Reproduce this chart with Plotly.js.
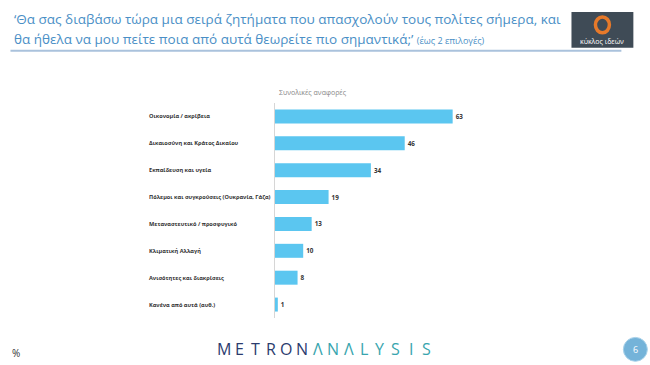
<!DOCTYPE html>
<html>
<head>
<meta charset="utf-8">
<script src="https://cdn.plot.ly/plotly-3.0.1.min.js"></script>
<style>
html,body{margin:0;padding:0;background:#fff;}
#chart{width:650px;height:365px;}
</style>
</head>
<body>
<div id="chart"></div>
<script>
const categories = [
  "Οικονομία / ακρίβεια",
  "Δικαιοσύνη και Κράτος Δικαίου",
  "Εκπαίδευση και υγεία",
  "Πόλεμοι και συγκρούσεις (Ουκρανία, Γάζα)",
  "Μεταναστευτικό / προσφυγικό",
  "Κλιματική Αλλαγή",
  "Ανισότητες και διακρίσεις",
  "Κανένα από αυτά (αυθ.)"
];
const values = [63, 46, 34, 19, 13, 10, 8, 1];
const seriesName = "Συνολικές αναφορές";
const titleLine1 = "‘Θα σας διαβάσω τώρα μια σειρά ζητήματα που απασχολούν τους πολίτες σήμερα, και";
const titleLine2 = "θα ήθελα να μου πείτε ποια από αυτά θεωρείτε πιο σημαντικά;’";
const titleNote = "(έως 2 επιλογές)";
const brandA = "METRON";
const brandB = "ΛNΛLYSIS";

const W = 650, H = 365, L = 275, R = 92.5, T = 102.5, B = 46.5;
const pw = W - L - R, ph = H - T - B;
const fx = p => (p - L) / pw;
const fy = p => (H - B - p) / ph;
const FONT = 'Open Sans, sans-serif';

const trace = {
  type: 'bar',
  orientation: 'h',
  y: categories,
  x: values,
  text: values.map(String),
  textposition: 'outside',
  cliponaxis: false,
  textfont: {family: FONT, size: 6.3, color: '#333', weight: 'bold'},
  marker: {color: '#5bc6f0'},
  width: 0.52,
  hoverinfo: 'none'
};

const annotations = [
  {xref: 'paper', yref: 'paper', x: fx(12), y: fy(18), xanchor: 'left', yanchor: 'middle', align: 'left', showarrow: false,
   text: titleLine1, font: {family: FONT, size: 13.5, color: '#4a8fc6'}},
  {xref: 'paper', yref: 'paper', x: fx(12), y: fy(38), xanchor: 'left', yanchor: 'middle', align: 'left', showarrow: false,
   text: titleLine2 + ' <span style="font-size:9px">' + titleNote + '</span>', font: {family: FONT, size: 13.5, color: '#4a8fc6'}},
  {xref: 'paper', yref: 'paper', x: fx(277), y: fy(98), xanchor: 'left', yanchor: 'bottom', showarrow: false,
   text: seriesName, font: {family: FONT, size: 7, color: '#888'}},
  {xref: 'paper', yref: 'paper', x: fx(603), y: fy(41), xanchor: 'center', yanchor: 'middle', showarrow: false,
   text: 'κύκλος ιδεών', font: {family: FONT, size: 7, color: '#fff'}},
  {xref: 'paper', yref: 'paper', x: fx(10), y: fy(354), xanchor: 'left', yanchor: 'middle', showarrow: false,
   text: '%', font: {family: FONT, size: 10, color: '#333'}},
  {xref: 'paper', yref: 'paper', x: fx(636), y: fy(350), xanchor: 'center', yanchor: 'middle', showarrow: false,
   text: '6', font: {family: FONT, size: 9, color: '#fff'}}
];

// category labels, left-aligned
categories.forEach(c => annotations.push({
  xref: 'paper', yref: 'y', x: fx(147), y: c, xanchor: 'left', yanchor: 'middle', showarrow: false,
  text: c, font: {family: FONT, size: 5.6, color: '#333', weight: 'bold'}
}));

// brand wordmark, spaced letters
const letters = (brandA + brandB).split('');
const bx0 = 224, bx1 = 427;
letters.forEach((ch, i) => annotations.push({
  xref: 'paper', yref: 'paper', x: fx(bx0 + (bx1 - bx0) * i / (letters.length - 1)), y: fy(350),
  xanchor: 'center', yanchor: 'middle', showarrow: false, text: ch,
  font: {family: FONT, size: 16, color: i < brandA.length ? '#2b3b6e' : '#38a5ae'}
}));

const layout = {
  width: W, height: H,
  margin: {l: L, r: R, t: T, b: B, pad: 0},
  paper_bgcolor: '#fff', plot_bgcolor: '#fff',
  showlegend: false,
  xaxis: {range: [0, 100], visible: false, fixedrange: true},
  yaxis: {
    type: 'category', autorange: 'reversed',
    showline: true, linecolor: '#d6d6d6', linewidth: 1.5,
    showgrid: false, zeroline: false, ticks: '', showticklabels: false,
    fixedrange: true
  },
  shapes: [
    {type: 'line', xref: 'paper', yref: 'paper', x0: fx(10), x1: fx(622), y0: fy(50), y1: fy(50), line: {color: '#aac2dc', width: 2}},
    {type: 'rect', xref: 'paper', yref: 'paper', x0: fx(572), x1: fx(634), y0: fy(11), y1: fy(47), fillcolor: '#3f4b56', line: {width: 0}},
    {type: 'circle', xref: 'paper', yref: 'paper', x0: fx(596), x1: fx(610), y0: fy(16), y1: fy(32), fillcolor: 'rgba(0,0,0,0)', line: {color: '#e6792a', width: 3.5}},
    {type: 'circle', xref: 'paper', yref: 'paper', x0: fx(624), x1: fx(648), y0: fy(338), y1: fy(362), fillcolor: '#74b3d9', line: {color: '#a9d2ea', width: 1}}
  ],
  annotations: annotations
};

Plotly.newPlot('chart', [trace], layout, {staticPlot: true, displayModeBar: false});
</script>
</body>
</html>
